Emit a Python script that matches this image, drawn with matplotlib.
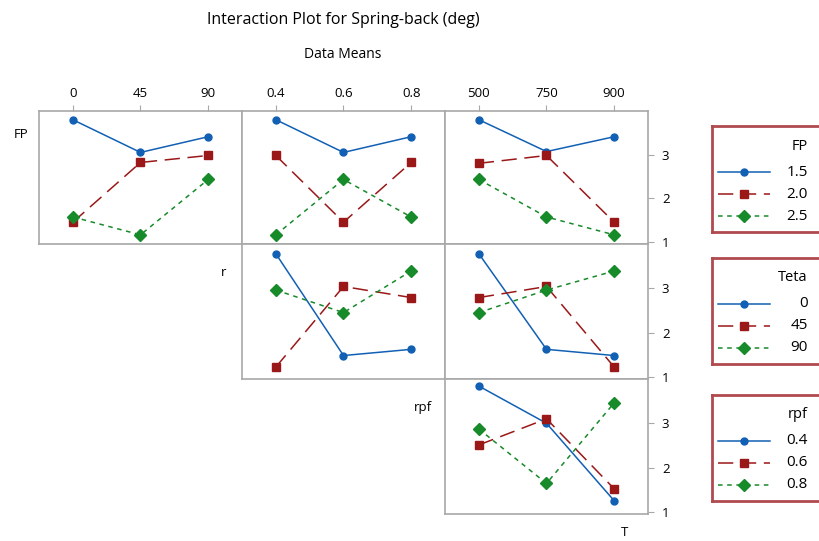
import matplotlib.pyplot as plt
from matplotlib.lines import Line2D

plt.rcParams['font.family'] = ['Open Sans', 'DejaVu Sans']

# factor levels (categorical x positions)
teta_levels = ['0', '45', '90']
rpf_levels = ['0.4', '0.6', '0.8']
t_levels = ['500', '750', '900']
fp_levels = ['1.5', '2.0', '2.5']

# means, rows = trace level (blue, red, green)
fp_vs_teta = [[3.80, 3.05, 3.41], [1.45, 2.82, 2.98], [1.57, 1.16, 2.43]]
fp_vs_rpf = [[3.80, 3.05, 3.41], [2.98, 1.45, 2.82], [1.16, 2.43, 1.57]]
fp_vs_t = [[3.80, 3.07, 3.41], [2.80, 2.98, 1.45], [2.43, 1.57, 1.16]]
teta_vs_rpf = [[3.78, 1.48, 1.62], [1.22, 3.04, 2.79], [2.96, 2.45, 3.39]]
teta_vs_t = [[3.78, 1.62, 1.48], [2.79, 3.04, 1.22], [2.45, 2.96, 3.39]]
rpf_vs_t = [[3.84, 3.00, 1.25], [2.51, 3.10, 1.52], [2.87, 1.64, 3.46]]

colors = ['#1260b4', '#9a1818', '#178a2a']
markers = ['o', 's', 'D']
styles = ['-', (0, (10, 5)), (0, (3, 3))]
msizes = [5, 5.5, 5.8]

W, H = 820, 541
fig = plt.figure(figsize=(8.2, 5.41), dpi=100)

col_x = [39, 242, 445]
row_y = [111, 244, 379]
pw, ph = 203, [133, 135, 135]

def px_axes(x0, y0, w, h):
    return fig.add_axes([x0 / W, 1 - (y0 + h) / H, w / W, h / H])

panels = {
    (0, 0): (fp_vs_teta, teta_levels),
    (0, 1): (fp_vs_rpf, rpf_levels),
    (0, 2): (fp_vs_t, t_levels),
    (1, 1): (teta_vs_rpf, rpf_levels),
    (1, 2): (teta_vs_t, t_levels),
    (2, 2): (rpf_vs_t, t_levels),
}

for (r, c), (data, xlabels) in panels.items():
    ax = px_axes(col_x[c], row_y[r], pw, ph[r])
    for i, series in enumerate(data):
        ax.plot(range(3), series, color=colors[i], linestyle=styles[i],
                marker=markers[i], markersize=msizes[i], linewidth=1.1)
    ax.set_xlim(-0.5, 2.5)
    ax.set_ylim(0.95, 4.0)
    for s in ax.spines.values():
        s.set_color('#a8a8a8')
        s.set_linewidth(1.2)
    ax.set_xticks(range(3))
    ax.set_yticks([1, 2, 3])
    if r == 0:
        ax.xaxis.tick_top()
        ax.set_xticklabels(xlabels)
        ax.tick_params(axis='x', length=4, color='#a8a8a8', labelsize=9.5, pad=4)
    else:
        ax.tick_params(axis='x', length=0, labelbottom=False)
    if c == 2:
        ax.yaxis.tick_right()
        ax.tick_params(axis='y', length=4, color='#a8a8a8', labelsize=9.5, pad=6)
    else:
        ax.tick_params(axis='y', length=0, labelleft=False)

# diagonal factor labels
fig.text(28 / W, 1 - 135 / H, 'FP', ha='right', va='center', fontsize=9.5)
fig.text(226 / W, 1 - 272 / H, 'r', ha='right', va='center', fontsize=9.5)
fig.text(432 / W, 1 - 407 / H, 'rpf', ha='right', va='center', fontsize=9.5)
fig.text(625 / W, 2 / H, 'T', ha='center', va='bottom', fontsize=9.5)

fig.text(343 / W, 1 - 20 / H, 'Interaction Plot for Spring-back (deg)',
         ha='center', va='center', fontsize=11.5)
fig.text(343 / W, 1 - 55 / H, 'Data Means', ha='center', va='center', fontsize=10)

# legends
leg_boxes = [(126, 'FP', fp_levels), (258, 'Teta', teta_levels), (395, 'rpf', rpf_levels)]
for top, title, labels in leg_boxes:
    lax = px_axes(712, top, 110, 106)
    lax.set_xlim(0, 110)
    lax.set_ylim(106, 0)
    lax.set_xticks([])
    lax.set_yticks([])
    for s in lax.spines.values():
        s.set_color('#b04a4e')
        s.set_linewidth(2)
    lax.spines['right'].set_visible(False)
    lax.text(96, 20, title, ha='right', va='center', fontsize=10.5)
    for i, lab in enumerate(labels):
        y = 46 + i * 22
        lax.add_line(Line2D([6, 58], [y, y], color=colors[i], linestyle=styles[i],
                            linewidth=1.1))
        lax.plot([32], [y], marker=markers[i], color=colors[i], markersize=msizes[i])
        lax.text(96, y, lab, ha='right', va='center', fontsize=11)

fig.savefig('out.png', dpi=100)
